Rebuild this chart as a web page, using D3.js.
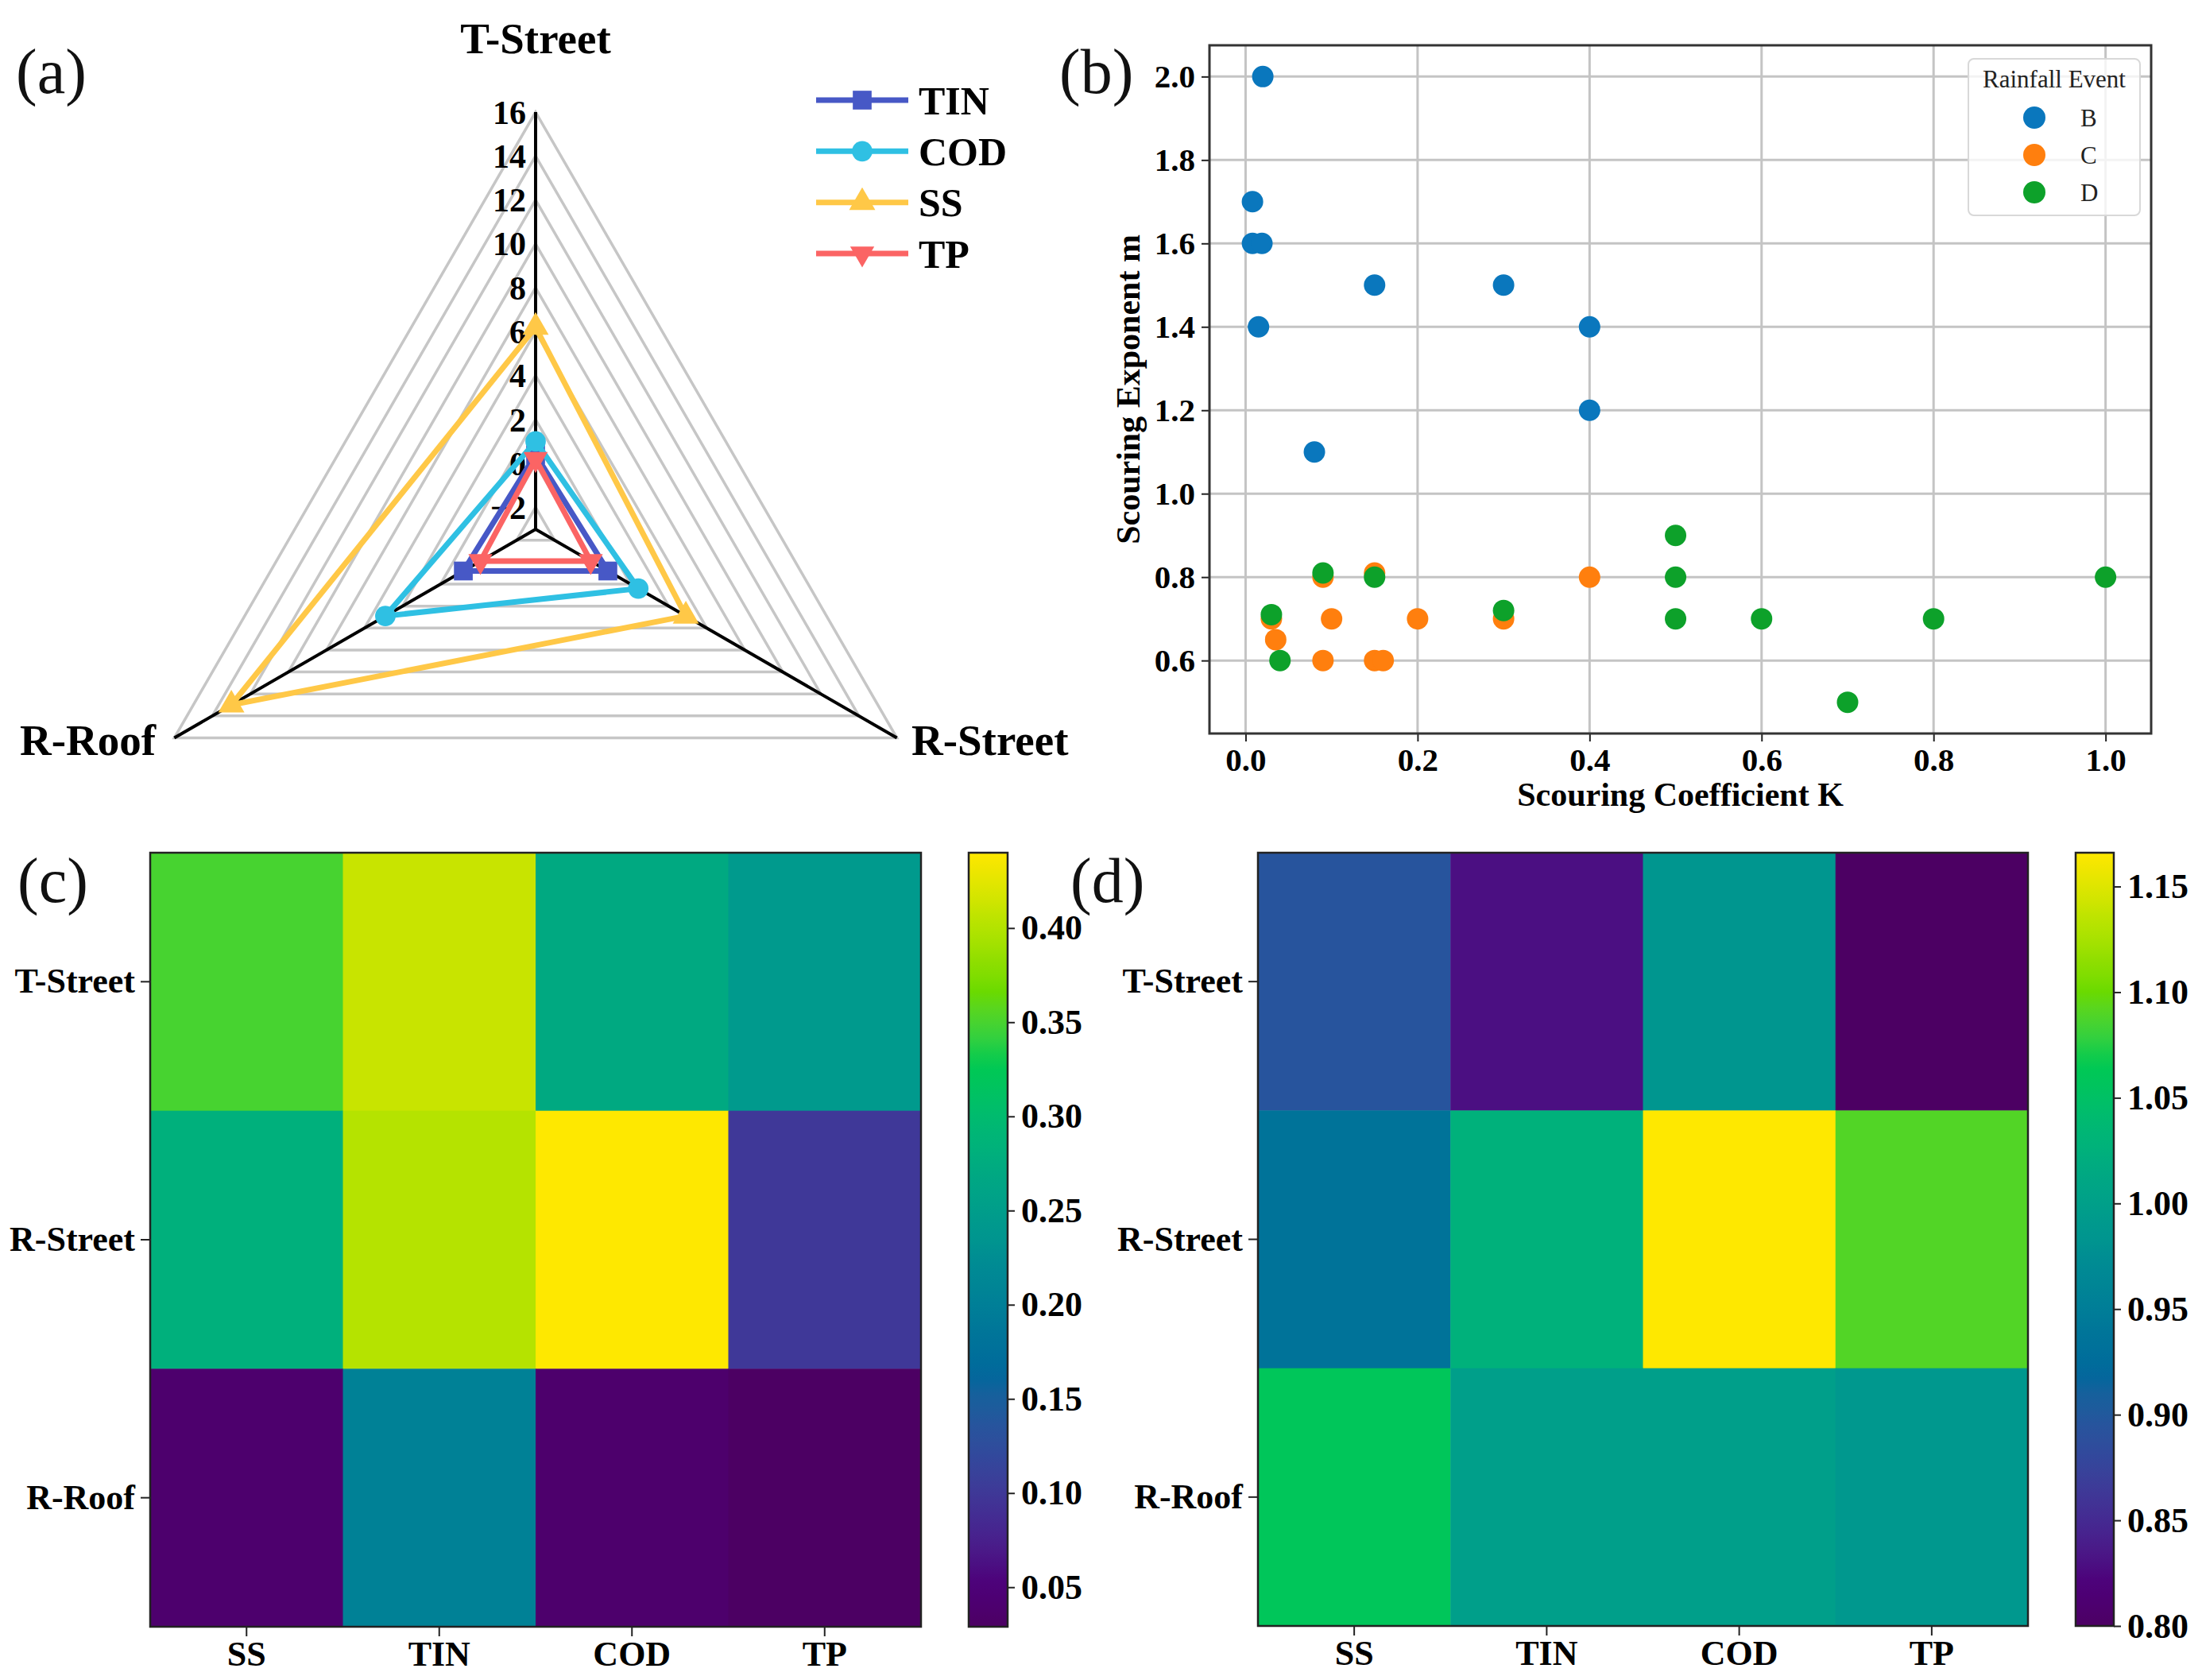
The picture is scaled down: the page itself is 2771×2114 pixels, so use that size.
<!DOCTYPE html>
<html><head><meta charset="utf-8">
<script src="https://cdn.jsdelivr.net/npm/d3@7"></script>
<style>
html,body{margin:0;padding:0;background:#fff;}
svg{display:block;}
text{font-family:"Liberation Serif","Times New Roman",serif;}
</style></head>
<body>
<script>
// ---------- DATA ----------
// (a) radar
const radarCats = ["T-Street", "R-Street", "R-Roof"];
const radarSeries = ["TIN", "COD", "SS", "TP"];
const tinVals = [0.4, 0.8, 0.8];
const codVals = [1.0, 2.4, 4.9];
const ssVals = [6.2, 4.9, 13.0];
const tpVals = [0.2, -0.1, -0.1];
const radarTicks = [-2, 0, 2, 4, 6, 8, 10, 12, 14, 16];
const radarColors = ["#4758c6", "#2fc0e3", "#ffc847", "#fb6464"];

// (b) scatter
const eventNames = ["B", "C", "D"];
const kB = [0.02, 0.008, 0.008, 0.019, 0.015, 0.15, 0.3, 0.4, 0.4, 0.08];
const mB = [2.0, 1.7, 1.6, 1.6, 1.4, 1.5, 1.5, 1.4, 1.2, 1.1];
const kC = [0.03, 0.035, 0.09, 0.09, 0.1, 0.15, 0.15, 0.16, 0.2, 0.3, 0.4];
const mC = [0.7, 0.65, 0.8, 0.6, 0.7, 0.81, 0.6, 0.6, 0.7, 0.7, 0.8];
const kD = [0.03, 0.04, 0.09, 0.15, 0.3, 0.5, 0.5, 0.5, 0.6, 0.7, 0.8, 1.0];
const mD = [0.71, 0.6, 0.81, 0.8, 0.72, 0.9, 0.8, 0.7, 0.7, 0.5, 0.7, 0.8];
const eventColors = ["#0a77bd", "#ff7f0e", "#0da12a"];
const xTicksB = [0.0, 0.2, 0.4, 0.6, 0.8, 1.0];
const yTicksB = [0.6, 0.8, 1.0, 1.2, 1.4, 1.6, 1.8, 2.0];

// (c),(d) heatmaps
const hmRows = ["T-Street", "R-Street", "R-Roof"];
const hmCols = ["SS", "TIN", "COD", "TP"];
const cTStreet = [0.35, 0.41, 0.27, 0.245];
const cRStreet = [0.28, 0.40, 0.44, 0.10];
const cRRoof = [0.04, 0.203, 0.038, 0.029];
const dTStreet = [0.895, 0.83, 0.985, 0.80];
const dRStreet = [0.935, 1.025, 1.166, 1.09];
const dRRoof = [1.06, 1.0, 1.0, 0.99];
const cbTicksC = [0.05, 0.10, 0.15, 0.20, 0.25, 0.30, 0.35, 0.40];
const cbTicksD = [0.80, 0.85, 0.90, 0.95, 1.00, 1.05, 1.10, 1.15];

// ---------- SVG ----------
const W = 2771, H = 2114;
const svg = d3.select("body").append("svg").attr("width", W).attr("height", H);
svg.append("rect").attr("width", W).attr("height", H).attr("fill", "#fff");

function panelLabel(t, x, y) {
  svg.append("text").attr("x", x).attr("y", y).attr("font-size", 80)
    .attr("fill", "#111").text(t);
}
panelLabel("(a)", 20, 117);
panelLabel("(b)", 1333, 117);
panelLabel("(c)", 22, 1135);
panelLabel("(d)", 1347, 1135);

// viridis with the slightly stronger chroma seen in the reference
function vivid(t) {
  const c = d3.hcl(d3.interpolateViridis(t));
  c.c = c.c * 1.3;
  return d3.rgb(c).clamp().formatHex();
}

// ---------- (a) RADAR ----------
(function () {
  const cx = 674, cy = 666, R = 525;
  const g = svg.append("g");
  const r = d3.scaleLinear().domain([-3, 16]).range([0, R]);
  const ang = d3.scalePoint().domain(radarCats).range([0, 2 * Math.PI * 2 / 3]);
  const pt = (cat, v) => {
    const a = -Math.PI / 2 + ang(cat);
    return [cx + r(v) * Math.cos(a), cy + r(v) * Math.sin(a)];
  };
  radarTicks.forEach(t => {
    g.append("path")
      .attr("d", d3.line()(radarCats.map(c => pt(c, t))) + "Z")
      .attr("fill", "none").attr("stroke", "#c6c6c6").attr("stroke-width", 3.5);
  });
  radarCats.forEach(c => {
    const p = pt(c, 16);
    g.append("line").attr("x1", cx).attr("y1", cy).attr("x2", p[0]).attr("y2", p[1])
      .attr("stroke", "#000").attr("stroke-width", 4);
  });
  radarTicks.forEach(t => {
    const p = pt("T-Street", t);
    g.append("text").attr("x", cx - 12).attr("y", p[1]).attr("dy", "0.35em")
      .attr("text-anchor", "end").attr("font-size", 42).attr("font-weight", "bold")
      .text(t < 0 ? "\u2212" + Math.abs(t) : t);
  });
  g.append("text").attr("x", cx).attr("y", 67).attr("text-anchor", "middle")
    .attr("font-size", 55).attr("font-weight", "bold").text("T-Street");
  g.append("text").attr("x", 1147).attr("y", 950).attr("text-anchor", "start")
    .attr("font-size", 55).attr("font-weight", "bold").text("R-Street");
  g.append("text").attr("x", 196).attr("y", 950).attr("text-anchor", "end")
    .attr("font-size", 55).attr("font-weight", "bold").text("R-Roof");

  const seriesVals = [tinVals, codVals, ssVals, tpVals];
  const symbols = [
    d3.symbol().type(d3.symbolSquare).size(560),
    d3.symbol().type(d3.symbolCircle).size(520),
    d3.symbol().type(d3.symbolTriangle).size(470),
    d3.symbol().type(d3.symbolTriangle).size(400)
  ];
  const rot = [0, 0, 0, 180];
  radarSeries.forEach((s, i) => {
    const pts = radarCats.map((c, j) => pt(c, seriesVals[i][j]));
    g.append("path").attr("d", d3.line()(pts) + "Z")
      .attr("fill", "none").attr("stroke", radarColors[i]).attr("stroke-width", 7)
      .attr("stroke-linejoin", "round");
    pts.forEach(p => {
      g.append("path").attr("d", symbols[i]())
        .attr("transform", `translate(${p[0]},${p[1]}) rotate(${rot[i]})`)
        .attr("fill", radarColors[i]);
    });
  });
  const ly = d3.scalePoint().domain(radarSeries).range([126, 319]);
  radarSeries.forEach((s, i) => {
    const y = ly(s);
    g.append("line").attr("x1", 1027).attr("x2", 1143).attr("y1", y).attr("y2", y)
      .attr("stroke", radarColors[i]).attr("stroke-width", 7);
    g.append("path").attr("d", symbols[i]())
      .attr("transform", `translate(1085,${y}) rotate(${rot[i]})`)
      .attr("fill", radarColors[i]);
    g.append("text").attr("x", 1156).attr("y", y).attr("dy", "0.35em")
      .attr("font-size", 50).attr("font-weight", "bold").text(s);
  });
})();

// ---------- (b) SCATTER ----------
(function () {
  const L = 1522, Rr = 2707, T = 57, B = 923;
  const g = svg.append("g");
  const x = d3.scaleLinear().domain([-0.042, 1.053]).range([L, Rr]);
  const y = d3.scaleLinear().domain([0.425, 2.075]).range([B, T]);
  xTicksB.forEach(t => g.append("line").attr("x1", x(t)).attr("x2", x(t)).attr("y1", T).attr("y2", B)
    .attr("stroke", "#c4c4c4").attr("stroke-width", 3));
  yTicksB.forEach(t => g.append("line").attr("x1", L).attr("x2", Rr).attr("y1", y(t)).attr("y2", y(t))
    .attr("stroke", "#c4c4c4").attr("stroke-width", 3));
  const xa = g.append("g").attr("transform", `translate(0,${B})`)
    .call(d3.axisBottom(x).tickValues(xTicksB).tickFormat(d3.format(".1f")).tickSize(10).tickPadding(8));
  const ya = g.append("g").attr("transform", `translate(${L},0)`)
    .call(d3.axisLeft(y).tickValues(yTicksB).tickFormat(d3.format(".1f")).tickSize(10).tickPadding(8));
  [xa, ya].forEach(a => {
    a.select(".domain").remove();
    a.selectAll("line").attr("stroke", "#222").attr("stroke-width", 2);
    a.selectAll("text").attr("font-size", 41).attr("font-weight", "bold").attr("fill", "#000")
      .attr("font-family", "Liberation Serif");
  });
  const ks = [kB, kC, kD], ms = [mB, mC, mD];
  eventNames.forEach((e, i) => {
    ks[i].forEach((k, j) => {
      g.append("circle").attr("cx", x(k)).attr("cy", y(ms[i][j])).attr("r", 13.5)
        .attr("fill", eventColors[i]);
    });
  });
  g.append("rect").attr("x", L).attr("y", T).attr("width", Rr - L).attr("height", B - T)
    .attr("fill", "none").attr("stroke", "#333").attr("stroke-width", 3);
  g.append("text").attr("x", (L + Rr) / 2).attr("y", 1014).attr("text-anchor", "middle")
    .attr("font-size", 42).attr("font-weight", "bold").text("Scouring Coefficient K");
  g.append("text").attr("transform", `translate(1434,${(T + B) / 2}) rotate(-90)`)
    .attr("text-anchor", "middle").attr("font-size", 42).attr("font-weight", "bold")
    .text("Scouring Exponent m");
  g.append("rect").attr("x", 2477).attr("y", 74).attr("width", 216).attr("height", 197)
    .attr("rx", 7).attr("fill", "#fff").attr("fill-opacity", 0.8)
    .attr("stroke", "#d8d8d8").attr("stroke-width", 2);
  g.append("text").attr("x", 2585).attr("y", 110).attr("text-anchor", "middle")
    .attr("font-size", 31).attr("fill", "#222").text("Rainfall Event");
  const ly = d3.scalePoint().domain(eventNames).range([148, 242]);
  eventNames.forEach((e, i) => {
    g.append("circle").attr("cx", 2560).attr("cy", ly(e)).attr("r", 14).attr("fill", eventColors[i]);
    g.append("text").attr("x", 2618).attr("y", ly(e)).attr("dy", "0.35em")
      .attr("font-size", 31).attr("fill", "#222").text(e);
  });
})();

// ---------- HEATMAPS ----------
function heatmap(rowsData, L, Rr, T, B, cbL, cbR, cbTicks) {
  const g = svg.append("g");
  const all = rowsData.flat();
  const vmin = d3.min(all), vmax = d3.max(all);
  const color = d3.scaleSequential(vivid).domain([vmin, vmax]);
  const x = d3.scaleBand().domain(hmCols).range([L, Rr]);
  const y = d3.scaleBand().domain(hmRows).range([T, B]);
  hmRows.forEach((rname, i) => {
    hmCols.forEach((cname, j) => {
      g.append("rect").attr("x", x(cname)).attr("y", y(rname))
        .attr("width", x.bandwidth() + 0.5).attr("height", y.bandwidth() + 0.5)
        .attr("fill", color(rowsData[i][j]));
    });
  });
  g.append("rect").attr("x", L).attr("y", T).attr("width", Rr - L).attr("height", B - T)
    .attr("fill", "none").attr("stroke", "#222").attr("stroke-width", 2.5);
  const xa = g.append("g").attr("transform", `translate(0,${B})`)
    .call(d3.axisBottom(x).tickSize(12).tickPadding(6));
  const ya = g.append("g").attr("transform", `translate(${L},0)`)
    .call(d3.axisLeft(y).tickSize(12).tickPadding(7));
  [xa, ya].forEach(a => {
    a.select(".domain").remove();
    a.selectAll("line").attr("stroke", "#222").attr("stroke-width", 2);
    a.selectAll("text").attr("font-size", 44).attr("font-weight", "bold").attr("fill", "#000")
      .attr("font-family", "Liberation Serif");
  });
  const id = "grad" + Math.round(L);
  const grad = svg.append("defs").append("linearGradient").attr("id", id)
    .attr("x1", 0).attr("y1", 1).attr("x2", 0).attr("y2", 0);
  d3.range(0, 1.0001, 0.02).forEach(t => {
    grad.append("stop").attr("offset", t).attr("stop-color", vivid(t));
  });
  g.append("rect").attr("x", cbL).attr("y", T).attr("width", cbR - cbL).attr("height", B - T)
    .attr("fill", `url(#${id})`).attr("stroke", "#222").attr("stroke-width", 2.5);
  const cy = d3.scaleLinear().domain([vmin, vmax]).range([B, T]);
  const ca = g.append("g").attr("transform", `translate(${cbR},0)`)
    .call(d3.axisRight(cy).tickValues(cbTicks).tickFormat(d3.format(".2f")).tickSize(9).tickPadding(8));
  ca.select(".domain").remove();
  ca.selectAll("line").attr("stroke", "#222").attr("stroke-width", 2);
  ca.selectAll("text").attr("font-size", 44).attr("font-weight", "bold").attr("fill", "#000")
    .attr("font-family", "Liberation Serif");
}
heatmap([cTStreet, cRStreet, cRRoof], 189, 1159, 1073, 2047, 1219, 1268, cbTicksC);
heatmap([dTStreet, dRStreet, dRRoof], 1583, 2552, 1073, 2046, 2612, 2660, cbTicksD);
</script>
</body></html>
